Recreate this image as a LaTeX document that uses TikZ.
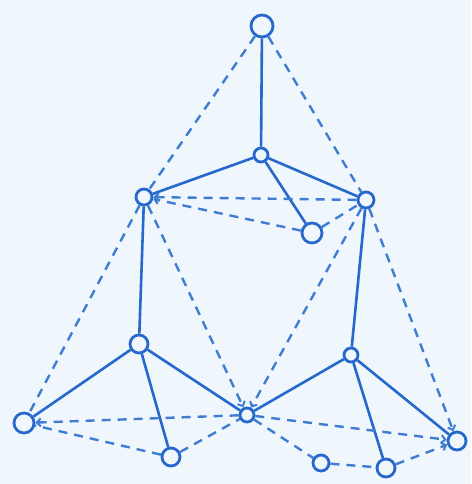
\documentclass[tikz,border=0pt]{standalone}
\usetikzlibrary{arrows.meta}
\definecolor{bg}{RGB}{239,246,252}
\definecolor{ink}{RGB}{38,104,204}
\definecolor{inkl}{RGB}{62,125,210}
\pgfdeclarelayer{back}
\pgfsetlayers{back,main}
\begin{document}
\begin{tikzpicture}[x=1pt,y=-1pt,
  vtx/.style={circle,draw=ink,fill=bg,line width=2.8pt,inner sep=0pt,minimum size=#1},
  solidedge/.style={draw=ink,line width=2.6pt},
  dashedge/.style={draw=inkl,line width=2.4pt,dash pattern=on 9pt off 7pt},
  arr/.style={-{Straight Barb[length=4pt,width=8pt,line width=2pt]}}]
\useasboundingbox (0,0) rectangle (471,484);
% vertices
\node[vtx=22pt] (T)  at (262,26)  {};
\node[vtx=14pt] (M)  at (261,155) {};
\node[vtx=16pt] (L1) at (144,197) {};
\node[vtx=16pt] (R1) at (366,200) {};
\node[vtx=20pt] (C1) at (312,233) {};
\node[vtx=18pt] (L2) at (139,344) {};
\node[vtx=14pt] (R2) at (351,355) {};
\node[vtx=14pt] (C)  at (247,415) {};
\node[vtx=20pt] (LL) at (24,423)  {};
\node[vtx=18pt] (LB) at (171,457) {};
\node[vtx=18pt] (RR) at (457,441) {};
\node[vtx=18pt] (RB) at (386,468) {};
\node[vtx=16pt] (RS) at (321,463) {};
\begin{pgfonlayer}{back}
\fill[bg] (0,0) rectangle (471,484);
% solid edges
\draw[solidedge] (T) -- (M);
\draw[solidedge] (M) -- (L1);
\draw[solidedge] (M) -- (R1);
\draw[solidedge] (M) -- (C1);
\draw[solidedge] (L1) -- (L2);
\draw[solidedge] (R1) -- (R2);
\draw[solidedge] (L2) -- (LL);
\draw[solidedge] (L2) -- (LB);
\draw[solidedge] (L2) -- (C);
\draw[solidedge] (R2) -- (C);
\draw[solidedge] (R2) -- (RB);
\draw[solidedge] (R2) -- (RR);
% dashed edges
\draw[dashedge] (T) -- (L1);
\draw[dashedge] (T) -- (R1);
\draw[dashedge] (L1) -- (LL);
\draw[dashedge,arr] (R1) -- (RR);
\draw[dashedge,arr] (R1) -- (L1);
\draw[dashedge,arr] (C1) -- (L1);
\draw[dashedge] (C1) -- (R1);
\draw[dashedge,arr] (L1) -- (C);
\draw[dashedge,arr] (R1) -- (C);
\draw[dashedge,arr] (C) -- (LL);
\draw[dashedge] (LB) -- (LL);
\draw[dashedge] (LB) -- (C);
\draw[dashedge,arr] (C) -- (RR);
\draw[dashedge] (C) -- (RS);
\draw[dashedge] (RS) -- (RB);
\draw[dashedge,arr] (RB) -- (RR);
\end{pgfonlayer}
\end{tikzpicture}
\end{document}
